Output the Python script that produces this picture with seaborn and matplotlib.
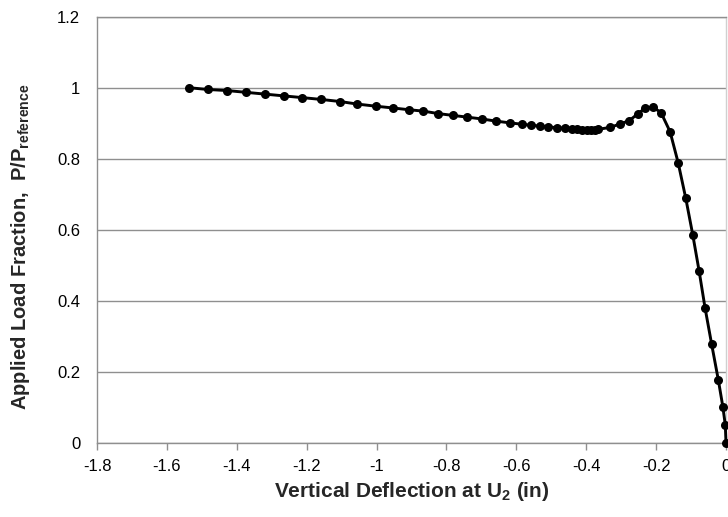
import matplotlib
matplotlib.use("Agg")
import matplotlib.pyplot as plt
import seaborn as sns
import pandas as pd

deflection = [-1.537, -1.483, -1.428, -1.374, -1.320, -1.266, -1.212, -1.159, -1.104,
              -1.056, -1.003, -0.954, -0.908, -0.866, -0.823, -0.782, -0.740, -0.699,
              -0.659, -0.619, -0.583, -0.557, -0.533, -0.508, -0.484, -0.461, -0.442,
              -0.427, -0.413, -0.399, -0.387, -0.375, -0.365, -0.332, -0.303, -0.277,
              -0.253, -0.232, -0.210, -0.186, -0.160, -0.137, -0.115, -0.095, -0.077,
              -0.060, -0.041, -0.022, -0.009, -0.002, 0.0]
load_fraction = [1.000, 0.995, 0.992, 0.987, 0.982, 0.977, 0.972, 0.967, 0.961,
                 0.954, 0.948, 0.943, 0.938, 0.934, 0.927, 0.922, 0.917, 0.912,
                 0.906, 0.901, 0.897, 0.894, 0.892, 0.890, 0.887, 0.886, 0.884,
                 0.883, 0.882, 0.882, 0.882, 0.882, 0.883, 0.888, 0.898, 0.907,
                 0.926, 0.942, 0.946, 0.930, 0.876, 0.789, 0.688, 0.585, 0.484,
                 0.380, 0.277, 0.177, 0.101, 0.050, 0.0]
x_ticks = [-1.8, -1.6, -1.4, -1.2, -1.0, -0.8, -0.6, -0.4, -0.2, 0.0]
x_tick_labels = ["-1.8", "-1.6", "-1.4", "-1.2", "-1", "-0.8", "-0.6", "-0.4", "-0.2", "0"]
y_ticks = [0, 0.2, 0.4, 0.6, 0.8, 1.0, 1.2]
y_tick_labels = ["0", "0.2", "0.4", "0.6", "0.8", "1", "1.2"]

sns.set_theme(style="white")
plt.rcParams["font.family"] = ["Liberation Sans", "DejaVu Sans"]
plt.rcParams["mathtext.fontset"] = "custom"
plt.rcParams["mathtext.rm"] = "Liberation Sans:bold"
plt.rcParams["mathtext.bf"] = "Liberation Sans:bold"
plt.rcParams["mathtext.it"] = "Liberation Sans:bold"
plt.rcParams["mathtext.default"] = "bf"

df = pd.DataFrame({"x": deflection, "y": load_fraction})

fig = plt.figure(figsize=(7.28, 5.17), dpi=100)
ax = fig.add_axes([97/728, 1 - 442.7/517, (726 - 97)/728, (442.7 - 16.7)/517])

sns.lineplot(data=df, x="x", y="y", sort=False, ax=ax, color="black",
             linewidth=2.1, marker="o", markersize=6.5, markeredgecolor="black",
             markerfacecolor="black", markeredgewidth=0, zorder=3, clip_on=False)

ax.set_xlim(-1.8, 0)
ax.set_ylim(0, 1.2)
ax.set_xticks(x_ticks)
ax.set_xticklabels(x_tick_labels)
ax.set_yticks(y_ticks)
ax.set_yticklabels(y_tick_labels)

ax.yaxis.grid(True, color="#8f8f8f", linewidth=1.0)
ax.xaxis.grid(False)
for s in ax.spines.values():
    s.set_color("#8f8f8f")
    s.set_linewidth(1.0)
ax.spines["right"].set_color("#d0d0d0")

ax.tick_params(axis="x", direction="out", length=5, width=1, color="#8f8f8f",
               labelsize=12, labelcolor="black", pad=7, bottom=True)
ax.tick_params(axis="y", length=0, labelsize=12, labelcolor="black", pad=12)

ax.set_xlabel("Vertical Deflection at U$_2$ (in)", fontsize=15, fontweight="bold", labelpad=4)
ax.set_ylabel("Applied Load Fraction,  P/P$_{reference}$", fontsize=14.5, fontweight="bold")
ax.yaxis.set_label_coords(-0.103, 0.46)

fig.savefig("out.png", dpi=100)
